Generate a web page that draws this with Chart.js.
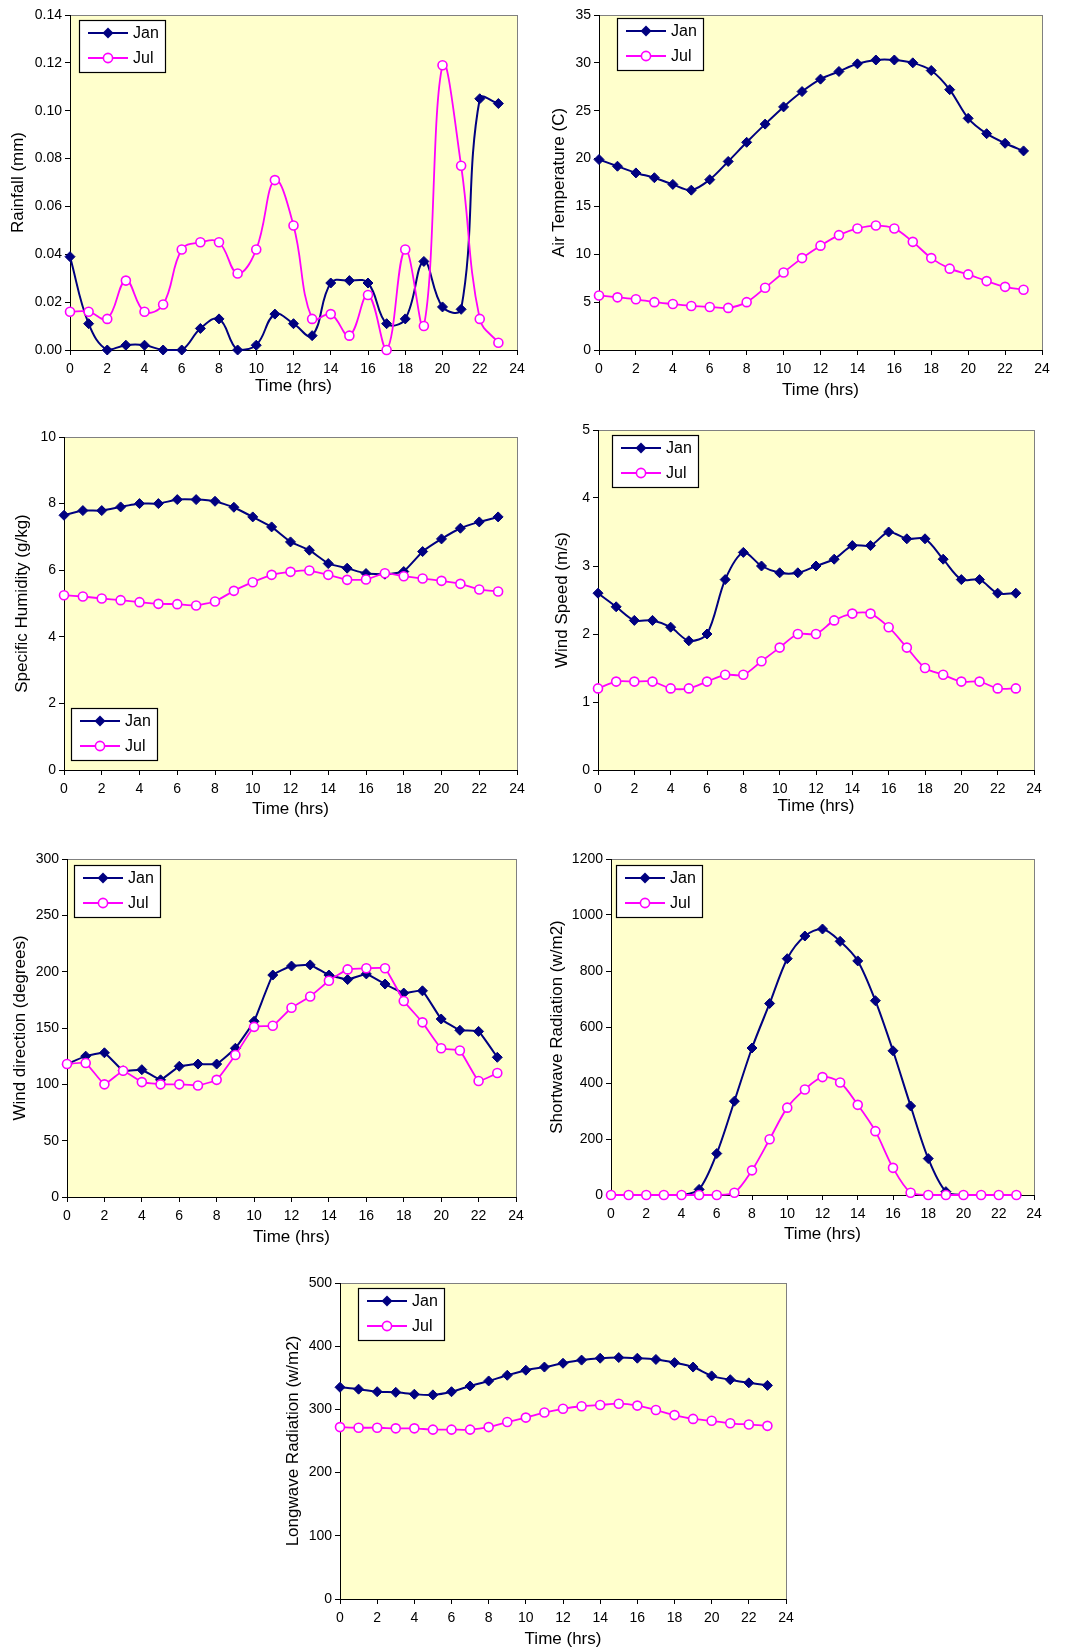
<!DOCTYPE html>
<html>
<head>
<meta charset="utf-8">
<script src="https://cdn.jsdelivr.net/npm/chart.js@4.4.0/dist/chart.umd.min.js"></script>
<style>
  html, body { margin: 0; padding: 0; background: #fff; }
  body { width: 1079px; height: 1650px; position: relative; overflow: hidden; }
  .box { position: absolute; }
</style>
</head>
<body>
<script>
// hours of the day (x axis)
const hours = [0, 1, 2, 3, 4, 5, 6, 7, 8, 9, 10, 11, 12, 13, 14, 15, 16, 17, 18, 19, 20, 21, 22, 23];
const seriesNames = ['Jan', 'Jul'];

// rainfall (mm)
const rainJan = [0.039, 0.011, 0.000, 0.002, 0.002, 0.000, 0.000, 0.009, 0.013, 0.000, 0.002, 0.015, 0.011, 0.006, 0.028, 0.029, 0.028, 0.011, 0.013, 0.037, 0.018, 0.017, 0.105, 0.103];
const rainJul = [0.016, 0.016, 0.013, 0.029, 0.016, 0.019, 0.042, 0.045, 0.045, 0.032, 0.042, 0.071, 0.052, 0.013, 0.015, 0.006, 0.023, 0.000, 0.042, 0.010, 0.119, 0.077, 0.013, 0.003];

// air temperature (C)
const tempJan = [19.9, 19.2, 18.5, 18.0, 17.3, 16.7, 17.8, 19.7, 21.7, 23.6, 25.4, 27.0, 28.3, 29.1, 29.9, 30.3, 30.3, 30.0, 29.2, 27.2, 24.2, 22.6, 21.6, 20.8];
const tempJul = [5.7, 5.5, 5.3, 5.0, 4.8, 4.6, 4.5, 4.4, 5.0, 6.5, 8.1, 9.6, 10.9, 12.0, 12.7, 13.0, 12.7, 11.3, 9.6, 8.5, 7.9, 7.2, 6.6, 6.3];

// specific humidity (g/kg)
const humJan = [7.65, 7.79, 7.79, 7.9, 8.0, 8.0, 8.12, 8.12, 8.07, 7.89, 7.6, 7.3, 6.85, 6.6, 6.2, 6.06, 5.9, 5.88, 5.96, 6.56, 6.94, 7.26, 7.45, 7.6];
const humJul = [5.25, 5.21, 5.15, 5.1, 5.04, 4.99, 4.98, 4.94, 5.06, 5.38, 5.64, 5.86, 5.95, 5.99, 5.86, 5.71, 5.72, 5.91, 5.82, 5.75, 5.68, 5.59, 5.42, 5.36];

// wind speed (m/s)
const windJan = [2.6, 2.4, 2.2, 2.2, 2.1, 1.9, 2.0, 2.8, 3.2, 3.0, 2.9, 2.9, 3.0, 3.1, 3.3, 3.3, 3.5, 3.4, 3.4, 3.1, 2.8, 2.8, 2.6, 2.6];
const windJul = [1.2, 1.3, 1.3, 1.3, 1.2, 1.2, 1.3, 1.4, 1.4, 1.6, 1.8, 2.0, 2.0, 2.2, 2.3, 2.3, 2.1, 1.8, 1.5, 1.4, 1.3, 1.3, 1.2, 1.2];

// wind direction (degrees)
const dirJan = [118, 125, 128, 112, 113, 104, 116, 118, 118, 132, 156, 197, 205, 206, 197, 193, 198, 189, 181, 183, 158, 148, 147, 124];
const dirJul = [118, 119, 100, 112, 102, 100, 100, 99, 104, 126, 151, 152, 168, 178, 192, 202, 203, 203, 174, 155, 132, 130, 103, 110];

// shortwave radiation (w/m2)
const swJan = [0, 0, 0, 0, 0, 20, 148, 335, 525, 684, 844, 925, 950, 906, 836, 694, 515, 318, 130, 12, 0, 0, 0, 0];
const swJul = [0, 0, 0, 0, 0, 0, 0, 8, 88, 199, 312, 377, 421, 402, 322, 228, 97, 8, 0, 0, 0, 0, 0, 0];

// longwave radiation (w/m2)
const lwJan = [335, 332, 328, 327, 324, 323, 328, 337, 345, 354, 362, 367, 373, 378, 381, 382, 381, 379, 374, 367, 353, 347, 342, 338];
const lwJul = [272, 271, 271, 270, 270, 268, 268, 268, 272, 280, 287, 295, 301, 305, 307, 309, 306, 299, 291, 285, 282, 278, 276, 274];

const NAVY = '#000080';
const PINK = '#FF00FF';
const FONT = '"Liberation Sans", Arial, sans-serif';
Chart.defaults.font.family = FONT;
Chart.defaults.color = '#000';

// yellow plot background with grey frame
const plotBg = {
  id: 'plotBg',
  beforeDraw(chart) {
    const { ctx, chartArea: a } = chart;
    ctx.save();
    ctx.fillStyle = '#FFFFCC';
    ctx.fillRect(a.left, a.top, a.right - a.left, a.bottom - a.top);
    ctx.strokeStyle = '#808080';
    ctx.lineWidth = 1;
    ctx.strokeRect(a.left + 0.5, a.top + 0.5, a.right - a.left, a.bottom - a.top);
    ctx.restore();
  }
};

// excel style legend box inside the plot
const boxLegend = {
  id: 'boxLegend',
  afterDraw(chart, args, opts) {
    const { ctx, chartArea: a } = chart;
    const x = a.left + opts.dx, y = a.top + opts.dy;
    const w = 86, h = 52;
    ctx.save();
    ctx.fillStyle = '#fff';
    ctx.fillRect(x, y, w, h);
    ctx.strokeStyle = '#000';
    ctx.lineWidth = 1.2;
    ctx.strokeRect(x + 0.5, y + 0.5, w, h);
    chart.data.datasets.forEach((ds, i) => {
      const ry = y + 13 + i * 25;
      ctx.strokeStyle = ds.borderColor;
      ctx.lineWidth = 2;
      ctx.beginPath();
      ctx.moveTo(x + 9, ry);
      ctx.lineTo(x + 49, ry);
      ctx.stroke();
      const mx = x + 29;
      if (ds.pointStyle === 'rectRot') {
        ctx.fillStyle = ds.borderColor;
        ctx.beginPath();
        ctx.moveTo(mx, ry - 5.5);
        ctx.lineTo(mx + 5.5, ry);
        ctx.lineTo(mx, ry + 5.5);
        ctx.lineTo(mx - 5.5, ry);
        ctx.closePath();
        ctx.fill();
      } else {
        ctx.fillStyle = '#fff';
        ctx.lineWidth = 1.6;
        ctx.beginPath();
        ctx.arc(mx, ry, 4.6, 0, Math.PI * 2);
        ctx.fill();
        ctx.stroke();
      }
      ctx.fillStyle = '#000';
      ctx.font = '16px ' + FONT;
      ctx.textBaseline = 'middle';
      ctx.fillText(ds.label, x + 54, ry + 1);
    });
    ctx.restore();
  }
};

function toPoints(vals) {
  return hours.map((h, i) => ({ x: h, y: vals[i] }));
}

function makeChart(c) {
  const [l, t, r, b] = c.plot;
  const padTop = 12, padRight = 16;
  const box = document.createElement('div');
  box.className = 'box';
  box.style.left = (l - c.yw) + 'px';
  box.style.top = (t - padTop) + 'px';
  box.style.width = (r - l + c.yw + padRight) + 'px';
  box.style.height = (b - t + padTop + c.xh) + 'px';
  const canvas = document.createElement('canvas');
  box.appendChild(canvas);
  document.body.appendChild(box);

  new Chart(canvas, {
    type: 'line',
    data: {
      datasets: [
        {
          label: seriesNames[0],
          data: toPoints(c.jan),
          borderColor: NAVY,
          backgroundColor: NAVY,
          borderWidth: 2,
          pointStyle: 'rectRot',
          pointRadius: 5,
          pointBackgroundColor: NAVY,
          pointBorderColor: NAVY,
          pointBorderWidth: 1,
          tension: c.tension,
          clip: false,
          order: 2,
        },
        {
          label: seriesNames[1],
          data: toPoints(c.jul),
          borderColor: PINK,
          backgroundColor: '#fff',
          borderWidth: 1.8,
          pointStyle: 'circle',
          pointRadius: 4.5,
          pointBackgroundColor: '#fff',
          pointBorderColor: PINK,
          pointBorderWidth: 1.6,
          tension: c.tension,
          clip: false,
          order: 1,
        },
      ],
    },
    options: {
      responsive: true,
      maintainAspectRatio: false,
      animation: false,
      layout: { padding: { top: padTop, right: padRight, left: 0, bottom: 0 } },
      plugins: {
        legend: { display: false },
        tooltip: { enabled: false },
        boxLegend: c.legend,
      },
      scales: {
        x: {
          type: 'linear',
          min: 0,
          max: 24,
          afterFit: (s) => { s.height = c.xh; },
          ticks: { stepSize: 2, padding: 6, font: { size: 14 }, color: '#000' },
          grid: { drawOnChartArea: false, drawTicks: true, tickLength: 5, color: '#000' },
          border: { color: '#000', width: 1 },
          title: { display: true, text: 'Time (hrs)', padding: 0, font: { size: 17 }, color: '#000' },
        },
        y: {
          min: 0,
          max: c.max,
          afterFit: (s) => { s.width = c.yw; },
          ticks: {
            stepSize: c.step,
            padding: 3,
            font: { size: 14 },
            color: '#000',
            callback: (v) => v.toFixed(c.digits),
          },
          grid: { drawOnChartArea: false, drawTicks: true, tickLength: 5, color: '#000' },
          border: { color: '#000', width: 1 },
          title: { display: true, text: c.title, padding: 0, font: { size: 17 }, color: '#000' },
        },
      },
    },
    plugins: [plotBg, boxLegend],
  });
}

makeChart({ plot: [70, 15, 517, 350], yw: 62, xh: 47, jan: rainJan, jul: rainJul, title: 'Rainfall (mm)', max: 0.14, step: 0.02, digits: 2, tension: 0.4, legend: { dx: 9, dy: 5 } });
makeChart({ plot: [599, 15, 1042, 350], yw: 50, xh: 51, jan: tempJan, jul: tempJul, title: 'Air Temperature (C)', max: 35, step: 5, digits: 0, tension: 0.3, legend: { dx: 18, dy: 3 } });
makeChart({ plot: [64, 437, 517, 770], yw: 52, xh: 50, jan: humJan, jul: humJul, title: 'Specific Humidity (g/kg)', max: 10, step: 2, digits: 0, tension: 0.1, legend: { dx: 7, dy: 271 } });
makeChart({ plot: [598, 430, 1034, 770], yw: 46, xh: 47, jan: windJan, jul: windJul, title: 'Wind Speed (m/s)', max: 5, step: 1, digits: 0, tension: 0.3, legend: { dx: 14, dy: 5 } });
makeChart({ plot: [67, 859, 516, 1197], yw: 57, xh: 51, jan: dirJan, jul: dirJul, title: 'Wind direction (degrees)', max: 300, step: 50, digits: 0, tension: 0.1, legend: { dx: 7, dy: 6 } });
makeChart({ plot: [611, 859, 1034, 1195], yw: 64, xh: 50, jan: swJan, jul: swJul, title: 'Shortwave Radiation (w/m2)', max: 1200, step: 200, digits: 0, tension: 0.3, legend: { dx: 5, dy: 6 } });
makeChart({ plot: [340, 1283, 786, 1599], yw: 57, xh: 51, jan: lwJan, jul: lwJul, title: 'Longwave Radiation (w/m2)', max: 500, step: 100, digits: 0, tension: 0.3, legend: { dx: 18, dy: 5 } });
</script>
</body>
</html>
